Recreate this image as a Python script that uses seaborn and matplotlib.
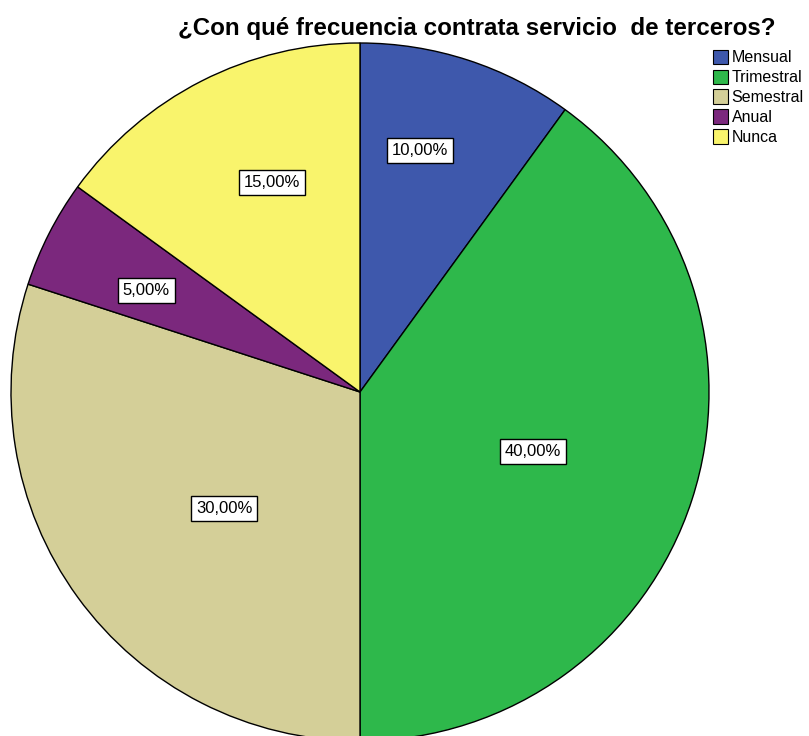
import numpy as np
import matplotlib
matplotlib.use("Agg")
import matplotlib.pyplot as plt
import seaborn as sns
from matplotlib.patches import Patch

categories = ["Mensual", "Trimestral", "Semestral", "Anual", "Nunca"]
values = [10, 40, 30, 5, 15]
labels = ["10,00%", "40,00%", "30,00%", "5,00%", "15,00%"]
hex_colors = ["#3e58ac", "#2eb84b", "#d4cf98", "#7b287d", "#f9f46c"]
title = "¿Con qué frecuencia contrata servicio  de terceros?"

sns.set_style("white")
plt.rcParams["font.family"] = ["Liberation Sans", "DejaVu Sans"]
plt.rcParams["text.color"] = "black"
palette = sns.color_palette(hex_colors)

fig = plt.figure(figsize=(8.09, 7.36), dpi=100)
ax = fig.add_axes([0, 0, 1, 1])

R = 349
cx, cy = 360, 392
wedges, _ = ax.pie(values, colors=palette, startangle=90, counterclock=False,
                   radius=1.0, center=(0, 0),
                   wedgeprops=dict(edgecolor="black", linewidth=1.0))
ax.set_xlim(-cx / R, (809 - cx) / R)
ax.set_ylim((cy - 736) / R, cy / R)
ax.set_aspect("equal")
ax.axis("off")

# label placement (radial fraction, angular nudge in degrees)
label_r = [0.714, 0.525, 0.512, 0.678, 0.65]
label_da = [4.1, -1.1, 4.5, 1.7, -4.2]
for w, lab, r, da in zip(wedges, labels, label_r, label_da):
    ang = np.deg2rad((w.theta1 + w.theta2) / 2 + da)
    ax.text(r * np.cos(ang), r * np.sin(ang), lab, ha="center", va="center",
            fontsize=12, color="black",
            bbox=dict(boxstyle="square,pad=0.3", facecolor="white",
                      edgecolor="black", linewidth=1.0))

fig.text(477 / 809, 1 - 28 / 736, title, ha="center", va="center",
         fontsize=17.4, fontweight="bold", color="black")

handles = [Patch(facecolor=c, edgecolor="black", linewidth=0.8) for c in palette]
fig.legend(handles, categories, loc="upper left",
           bbox_to_anchor=(711 / 809, 1 - 48 / 736), frameon=False,
           fontsize=11.5, handlelength=0.95, handleheight=1.0,
           handletextpad=0.25, labelspacing=0.27, borderpad=0.1,
           borderaxespad=0)

fig.savefig("out.png", dpi=100)
